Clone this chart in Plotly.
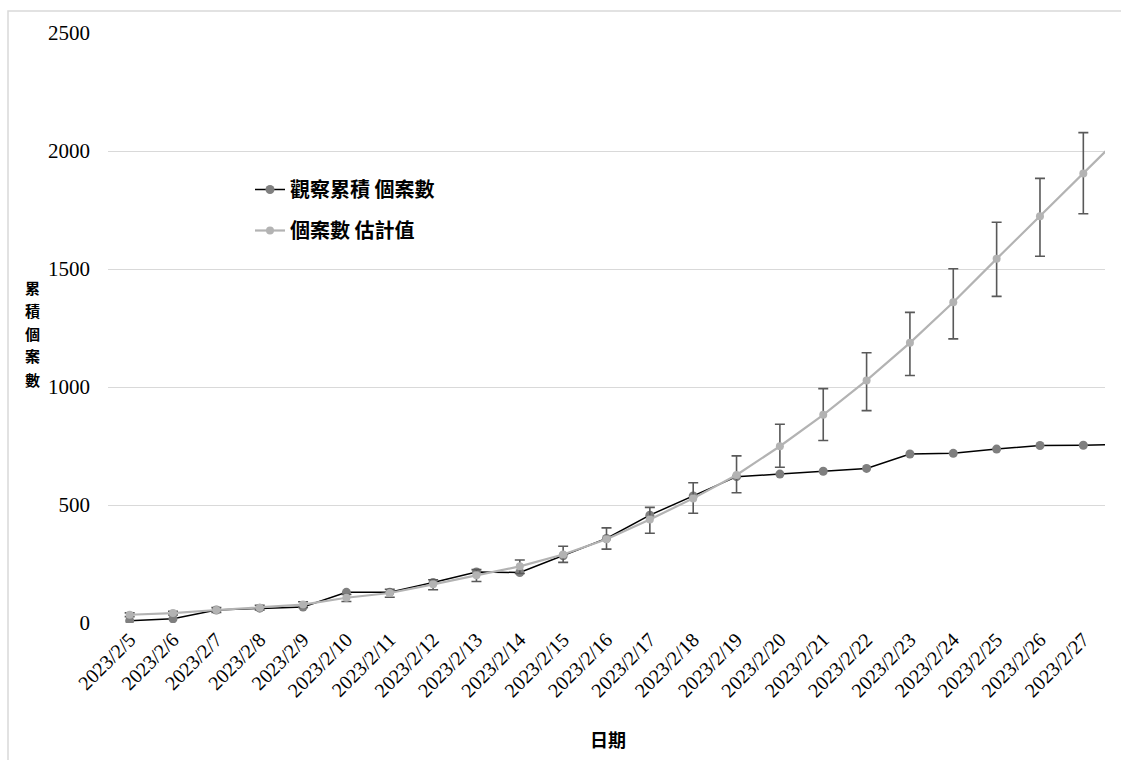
import plotly.graph_objects as go

# Daily dates (the last one sits just past the visible axis range)
dates = ["2023/2/5", "2023/2/6", "2023/2/7", "2023/2/8", "2023/2/9", "2023/2/10",
         "2023/2/11", "2023/2/12", "2023/2/13", "2023/2/14", "2023/2/15", "2023/2/16",
         "2023/2/17", "2023/2/18", "2023/2/19", "2023/2/20", "2023/2/21", "2023/2/22",
         "2023/2/23", "2023/2/24", "2023/2/25", "2023/2/26", "2023/2/27", "2023/2/28"]

# Observed cumulative cases
observed = [10, 18, 55, 63, 68, 130, 130, 172, 216, 214, 285, 358, 457, 538, 620,
            631, 643, 655, 716, 719, 737, 752, 753, 757]

# Estimated cases with upper / lower error amounts
estimated = [35, 42, 55, 65, 78, 107, 127, 164, 202, 240, 290, 355, 439, 528, 627,
             749, 882, 1028, 1187, 1359, 1543, 1724, 1905, 2087]
err_plus = [8, 8, 10, 10, 12, 14, 16, 19, 24, 27, 35, 48, 51, 66, 81, 93, 111, 117,
            129, 142, 155, 160, 173, 180]
err_minus = [8, 8, 10, 10, 12, 16, 18, 23, 26, 30, 33, 42, 59, 63, 75, 89, 109, 128,
             138, 155, 159, 170, 171, 180]

y_ticks = [0, 500, 1000, 1500, 2000, 2500]

# Axis titles
y_title_chars = ["累", "積", "個", "案", "數"]
x_title = "日期"

SERIF = "Times New Roman"
CJK = "Noto Sans CJK TC"

# Plot area in pixels: left 108, right 1105, top 33, bottom 623
PL, PW, PB, PH = 108, 997, 623, 590


def px_x(px):
    return (px - PL) / PW


def px_y(py):
    return (PB - py) / PH


fig = go.Figure()

fig.add_trace(go.Scatter(
    x=dates, y=observed, mode="lines+markers",
    name="觀察累積 個案數", legendgroup="obs",
    line=dict(color="#000000", width=1.5),
    marker=dict(color="#7f7f7f", size=9),
))

fig.add_trace(go.Scatter(
    x=dates, y=estimated, mode="lines+markers",
    name="個案數 估計值", legendgroup="est",
    line=dict(color="#b3b3b3", width=2.2),
    marker=dict(color="#b3b3b3", size=8),
    error_y=dict(type="data", symmetric=False, array=err_plus, arrayminus=err_minus,
                 color="#595959", thickness=1.6, width=5),
))

annotations = []
for i, ch in enumerate(y_title_chars):
    annotations.append(dict(
        text=ch, xref="paper", yref="paper", x=px_x(32), y=px_y(287 + 23 * i),
        xanchor="center", yanchor="middle", showarrow=False,
        font=dict(family=CJK, size=15, color="#000000", weight="bold")))
annotations.append(dict(
    text=x_title, xref="paper", yref="paper", x=px_x(608), y=px_y(739),
    xanchor="center", yanchor="middle", showarrow=False,
    font=dict(family=CJK, size=18, color="#000000", weight="bold")))

fig.update_layout(
    width=1121, height=760,
    margin=dict(l=PL, r=1121 - PL - PW, t=PB - PH, b=760 - PB),
    paper_bgcolor="white", plot_bgcolor="white",
    showlegend=True,
    legend=dict(x=px_x(250), y=px_y(170), xanchor="left", yanchor="top",
                bgcolor="rgba(0,0,0,0)", tracegroupgap=12, traceorder="grouped",
                font=dict(family=CJK, size=20, color="#000000", weight="bold"),
                itemwidth=30),
    xaxis=dict(type="category", range=[-0.5, 22.5], showgrid=False, zeroline=False,
               showline=False, ticks="", tickangle=-45,
               tickfont=dict(family=SERIF, size=20, color="#000000")),
    yaxis=dict(range=[0, 2500], tickvals=y_ticks, showgrid=True, gridcolor="#d9d9d9",
               gridwidth=1, zeroline=False, showline=False, ticks="",
               tickfont=dict(family=SERIF, size=21, color="#000000"), ticklabelstandoff=17),
    annotations=annotations,
    shapes=[
        dict(type="rect", xref="paper", yref="paper",
             x0=px_x(8), x1=px_x(1130), y0=px_y(770), y1=px_y(11),
             line=dict(color="#d9d9d9", width=1.5), fillcolor="rgba(0,0,0,0)", layer="below"),
    ],
)

fig.write_html("out.html")
